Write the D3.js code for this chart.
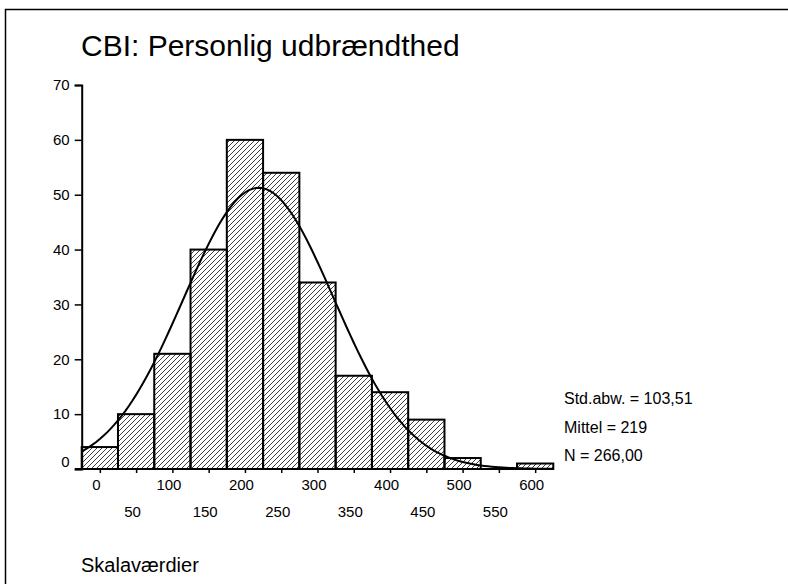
<!DOCTYPE html>
<html>
<head>
<meta charset="utf-8">
<script src="https://cdn.jsdelivr.net/npm/d3@7"></script>
<style>
  body { margin: 0; background: #fff; }
  svg text { font-family: "Liberation Sans", Arial, sans-serif; fill: #000; }
</style>
</head>
<body>
<div id="chart-area"></div>
<script>
// Histogram data - bin centers and counts
var binCenters = [0, 50, 100, 150, 200, 250, 300, 350, 400, 450, 500, 550, 600];
var counts     = [4, 10, 21, 40, 60, 54, 34, 17, 14, 9, 2, 0, 1];
var yTicks     = [0, 10, 20, 30, 40, 50, 60, 70];

// Summary stats (shown in the legend, used for the normal curve)
var stdDev = 103.51;
var mean = 219;
var nCases = 266;
var statLabels = ["Std.abw. = 103,51", "Mittel = 219", "N = 266,00"];

var binWidth = 50;

var width = 788, height = 584;

var svg = d3.select("#chart-area")
    .append("svg")
        .attr("width", width)
        .attr("height", height);

// frame (only top and left edges are inside the window)
svg.append("path")
    .attr("d", "M5.5," + height + "V9.5H" + width)
    .attr("fill", "none")
    .attr("stroke", "#000")
    .attr("stroke-width", 1.5);

// hatch pattern
var pat = svg.append("defs").append("pattern")
    .attr("id", "hatch")
    .attr("patternUnits", "userSpaceOnUse")
    .attr("width", 5)
    .attr("height", 5);
pat.append("path")
    .attr("d", "M-1,1 l2,-2 M0,5 l5,-5 M4,6 l2,-2")
    .attr("stroke", "#000")
    .attr("stroke-width", 0.75);

// Scales
var x = d3.scaleLinear()
    .domain([-25, 625])
    .range([81.7, 553.3]);

var y = d3.scaleLinear()
    .domain([0, 70])
    .range([469, 85]);

// Title
svg.append("text")
    .attr("x", 81)
    .attr("y", 56)
    .attr("font-size", "30px")
    .text("CBI: Personlig udbrændthed");

// X axis baseline (extends a bit left of y axis)
svg.append("line")
    .attr("x1", 75).attr("x2", x(625))
    .attr("y1", y(0)).attr("y2", y(0))
    .attr("stroke", "#000")
    .attr("stroke-width", 2);

// X axis
var xAxis = svg.append("g")
    .attr("transform", "translate(0," + y(0) + ")")
    .call(d3.axisBottom(x)
        .tickValues(binCenters)
        .tickSize(4)
        .tickFormat(d3.format("d")));
xAxis.select(".domain").remove();
xAxis.selectAll("line").attr("stroke-width", 1.5);
xAxis.selectAll("text")
    .attr("font-size", "15px")
    .attr("dx", -4)
    .attr("y", function(d, i) { return i % 2 === 0 ? 10 : 37; });

// Y axis
var yAxis = svg.append("g")
    .attr("transform", "translate(" + x(-25) + ",0)")
    .call(d3.axisLeft(y)
        .tickValues(yTicks)
        .tickSize(7)
        .tickPadding(5));
yAxis.select(".domain")
    .attr("stroke-width", 2);
yAxis.selectAll("line").attr("stroke-width", 1.5);
yAxis.selectAll("text")
    .attr("font-size", "15px")
    .attr("dy", function(d) { return d === 0 ? "-0.15em" : "0.32em"; });

// Bars
svg.selectAll("rect.bar")
    .data(counts)
    .enter()
    .append("rect")
        .attr("class", "bar")
        .attr("x", function(d, i) { return x(binCenters[i] - binWidth / 2); })
        .attr("y", function(d) { return y(d); })
        .attr("width", x(binWidth) - x(0))
        .attr("height", function(d) { return y(0) - y(d); })
        .attr("fill", "url(#hatch)")
        .attr("stroke", "#000")
        .attr("stroke-width", 2);

// Normal curve from the stats
var curveXs = d3.range(-25, 625.1, 5);
var curve = d3.line()
    .x(function(d) { return x(d); })
    .y(function(d) {
        var z = (d - mean) / stdDev;
        return y(nCases * binWidth / (stdDev * Math.sqrt(2 * Math.PI)) * Math.exp(-0.5 * z * z));
    });
svg.append("path")
    .datum(curveXs)
    .attr("d", curve)
    .attr("fill", "none")
    .attr("stroke", "#000")
    .attr("stroke-width", 2);

// Stats legend
svg.selectAll("text.stat")
    .data(statLabels)
    .enter()
    .append("text")
        .attr("class", "stat")
        .attr("x", 564)
        .attr("y", function(d, i) { return 404 + i * 28.5; })
        .attr("font-size", "16px")
        .text(function(d) { return d; });

// X Label
svg.append("text")
    .attr("x", 81)
    .attr("y", 572)
    .attr("font-size", "20px")
    .text("Skalaværdier");
</script>
</body>
</html>
